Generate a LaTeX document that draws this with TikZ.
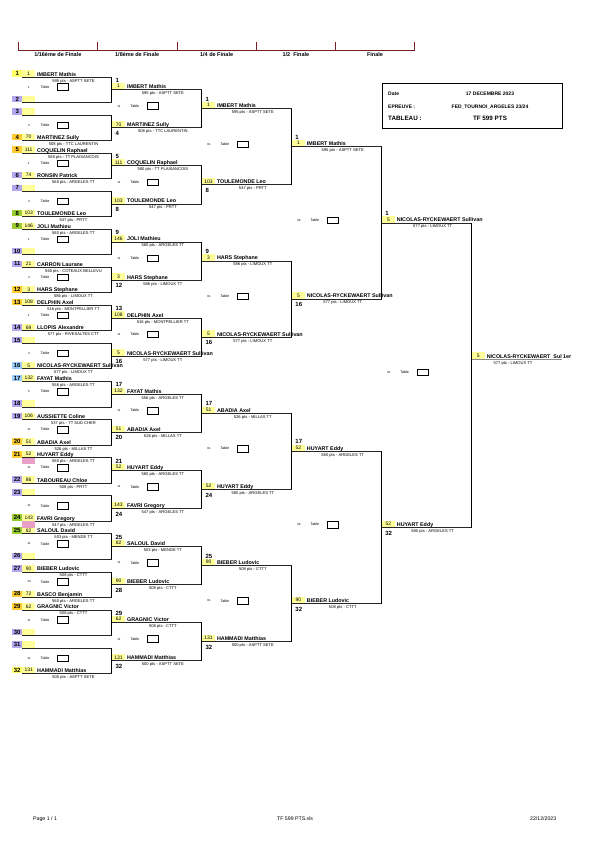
\documentclass[tikz,border=0pt]{standalone}
\usepackage{fontspec}
\setmainfont{Liberation Sans}
\definecolor{cyel}{HTML}{FFFF66}
\definecolor{cvio}{HTML}{B4A7F0}
\definecolor{cgold}{HTML}{FFCC33}
\definecolor{cgreen}{HTML}{99CC33}
\definecolor{cblue}{HTML}{99CCFF}
\definecolor{seedy}{HTML}{FFFF99}
\definecolor{cpink}{HTML}{E9A0C8}
\definecolor{hdr}{HTML}{7A1F1F}
\tikzset{
  badge/.style={anchor=south west, minimum width=10pt, minimum height=6.5pt, inner sep=0pt, font=\fontsize{6}{6}\selectfont\bfseries},
  seedbox/.style={anchor=south west, minimum width=13pt, minimum height=6.5pt, inner sep=0pt, fill=seedy, font=\fontsize{5}{5}\selectfont},
  pname/.style={anchor=base west, inner sep=0pt, font=\fontsize{5.35}{6}\selectfont\bfseries},
  pts/.style={anchor=base, inner sep=0pt, font=\fontsize{4.1}{4.1}\selectfont},
  rnum/.style={anchor=base west, inner sep=0pt, font=\fontsize{6}{6}\selectfont\bfseries},
  mnum/.style={inner sep=0pt, font=\fontsize{3}{3}\selectfont},
  tlab/.style={inner sep=0pt, font=\fontsize{3.6}{3.6}\selectfont},
  tbox/.style={draw, line width=0.6pt, anchor=west, minimum width=11pt, minimum height=6.5pt, inner sep=0pt},
  hline/.style={line width=0.8pt, black!85},
  vline/.style={line width=0.9pt, black},
  hdrline/.style={line width=0.8pt, hdr},
  hdrlab/.style={inner sep=0pt, font=\fontsize{5.5}{5.5}\selectfont\bfseries},
  info/.style={anchor=base west, inner sep=0pt, font=\fontsize{5}{5}\selectfont\bfseries},
  infoc/.style={anchor=base, inner sep=0pt, font=\fontsize{5}{5}\selectfont\bfseries},
  foot/.style={anchor=base west, inner sep=0pt, font=\fontsize{5.2}{5.2}\selectfont},
}
% left column row: #1 row, #2 badge colour, #3 seed, #4 name, #5 pts
\newcommand\LRow[5]{%
  \pgfmathsetmacro\yy{77+floor((#1-1)/2)*38.07+mod(#1-1,2)*25.4}%
  \node[badge,fill=#2] (L#1b) at (12,\yy) {#1};
  \node[seedbox] (L#1s) at (22,\yy) {#3};
  \coordinate (L#1a) at (22,\yy);
  \coordinate (L#1e) at (111.9,\yy);
  \draw[hline] (L#1a) -- (L#1e);
  \node[pname] (L#1n) at ({37},{\yy-1}) {#4};
  \node[pts] (L#1p) at ({73.5},{\yy+5}) {#5};
}
% column entry: #1 id, #2 x0, #3 y, #4 seed, #5 name, #6 pts, #7 label, #8 label offset
\newcommand\CEntry[8]{%
  \node[seedbox] (#1s) at (#2,#3) {#4};
  \coordinate (#1a) at (#2,#3);
  \coordinate (#1e) at ({#2+89.93},#3);
  \draw[hline] (#1a) -- (#1e);
  \node[pname] (#1n) at ({#2+15},{#3-1}) {#5};
  \node[pts] (#1p) at ({#2+51},{#3+5}) {#6};
  \node[rnum] (#1r) at ({#2+3.5},{#3+(#8)}) {#7};
}
% match label: #1 id, #2 x0, #3 y mid, #4 number
\newcommand\MLab[4]{%
  \node[mnum] (#1m) at ({#2+7},{#3-2.7}) {#4};
  \node[tlab] (#1t) at ({#2+23},{#3-2.7}) {Table};
  \node[tbox] (#1x) at ({#2+35},{#3-2.7}) {};
}
\begin{document}
\begin{tikzpicture}[x=1pt,y=-1pt]
\useasboundingbox (0,0) rectangle (595,841);
\fill[white] (0,0) rectangle (595,841);
% header
\foreach \x [count=\i] in {18,97.5,177,256.3,335.5,414.5} {
  \coordinate (h\i) at (\x,50);
  \coordinate (t\i) at (\x,42);
  \draw[hdrline] (h\i) -- (t\i);
}
\draw[hdrline] (h1) -- (h6);
\node[hdrlab] (hl1) at (57.8,54.5) {1/16ème de Finale};
\node[hdrlab] (hl2) at (137.2,54.5) {1/8ème de Finale};
\node[hdrlab] (hl3) at (216.6,54.5) {1/4 de Finale};
\node[hdrlab] (hl4) at (295.9,54.5) {1/2\ \ Finale};
\node[hdrlab] (hl5) at (375,54.5) {Finale};
% info box
\node[draw, line width=0.8pt, anchor=north west, minimum width=180pt, minimum height=45pt, inner sep=0pt] (infobox) at (381.7,83.3) {};
\node[info] (d1) at (388,95) {Date};
\node[infoc] (d2) at (490,95) {17 DECEMBRE 2023};
\node[info] (e1) at (388,108.3) {EPREUVE :};
\node[infoc] (e2) at (490,108.3) {FED\_TOURNOI\_ARGELES 23/24};
\node[info, font=\fontsize{6.3}{6.3}\selectfont\bfseries] (f1) at (388,120.5) {TABLEAU :};
\node[infoc, font=\fontsize{6.3}{6.3}\selectfont\bfseries] (f2) at (490,120.5) {TF 599 PTS};
% left column
\LRow{1}{cyel}{1}{IMBERT Mathis}{595 pts - ASPTT SETE}
\LRow{2}{cvio}{}{}{}
\LRow{3}{cvio}{}{}{}
\LRow{4}{cgold}{70}{MARTINEZ Sully}{508 pts - TTC LAURENTIN}
\LRow{5}{cgold}{111}{COQUELIN Raphael}{580 pts - TT PLAISANCOIS}
\LRow{6}{cvio}{74}{RONSIN Patrick}{560 pts - ARGELES TT}
\LRow{7}{cvio}{}{}{}
\LRow{8}{cgreen}{103}{TOULEMONDE Leo}{547 pts - PRTT}
\LRow{9}{cgreen}{146}{JOLI Mathieu}{560 pts - ARGELES TT}
\LRow{10}{cvio}{}{}{}
\LRow{11}{cvio}{21}{CARRON Laurane}{560 pts - COTEAUX BELLEVU}
\LRow{12}{cgold}{3}{HARS Stephane}{586 pts - LIMOUX TT}
\LRow{13}{cgold}{108}{DELPHIN Axel}{516 pts - MONTPELLIER TT}
\LRow{14}{cvio}{69}{LLOPIS Alexandre}{577 pts - RIVESALTES CTT}
\LRow{15}{cvio}{}{}{}
\LRow{16}{cblue}{5}{NICOLAS-RYCKEWAERT Sullivan}{577 pts - LIMOUX TT}
\LRow{17}{cblue}{132}{FAYAT Mathis}{556 pts - ARGELES TT}
\LRow{18}{cvio}{}{}{}
\LRow{19}{cvio}{106}{AUSSIETTE Coline}{537 pts - TT SUD CHER}
\LRow{20}{cgold}{51}{ABADIA Axel}{526 pts - MILLAS TT}
\LRow{21}{cgold}{52}{HUYART Eddy}{580 pts - ARGELES TT}
\LRow{22}{cvio}{86}{TABOUREAU Chloe}{508 pts - PRTT}
\LRow{23}{cvio}{}{}{}
\LRow{24}{cgreen}{143}{FAVRI Gregory}{547 pts - ARGELES TT}
\LRow{25}{cgreen}{82}{SALOUL David}{503 pts - MENDE TT}
\LRow{26}{cvio}{}{}{}
\LRow{27}{cvio}{90}{BIEBER Ludovic}{508 pts - CTTT}
\LRow{28}{cgold}{72}{BASCO Benjamin}{560 pts - ARGELES TT}
\LRow{29}{cgold}{62}{GRAGNIC Victor}{508 pts - CTTT}
\LRow{30}{cvio}{}{}{}
\LRow{31}{cvio}{}{}{}
\LRow{32}{cyel}{131}{HAMMADI Matthias}{500 pts - ASPTT SETE}
\node[seedbox, fill=cpink, anchor=north west] (pk21) at (L21a) {};
\node[seedbox, fill=cpink, anchor=north west] (pk24) at (L24a) {};
% left pairs: verticals and table labels
\foreach \k/\num in {1/1,2/3,3/1,4/4,5/1,6/4,7/1,8/4,9/5,10/11,11/11,12/11,13/11,14/14,15/11,16/11} {
  \pgfmathtruncatemacro\ra{2*\k-1}
  \pgfmathtruncatemacro\rb{2*\k}
  \draw[vline] (L\ra e) -- (L\rb e);
  \pgfmathsetmacro\ym{77+(\k-1)*38.07+12.7}
  \MLab{P\k}{22}{\ym}{\num}
}
% 1/8 column
\def\xb{111.9}
\newcommand\EB[5]{\pgfmathsetmacro\yb{89.7+(#1-1)*38.07}\CEntry{B#1}{\xb}{\yb}{#2}{#3}{#4}{#5}{\ifodd#1 -7.3\else 7.6\fi}}
\EB{1}{1}{IMBERT Mathis}{595 pts - ASPTT SETE}{1}
\EB{2}{70}{MARTINEZ Sully}{508 pts - TTC LAURENTIN}{4}
\EB{3}{111}{COQUELIN Raphael}{580 pts - TT PLAISANCOIS}{5}
\EB{4}{103}{TOULEMONDE Leo}{547 pts - PRTT}{8}
\EB{5}{146}{JOLI Mathieu}{560 pts - ARGELES TT}{9}
\EB{6}{3}{HARS Stephane}{586 pts - LIMOUX TT}{12}
\EB{7}{108}{DELPHIN Axel}{516 pts - MONTPELLIER TT}{13}
\EB{8}{5}{NICOLAS-RYCKEWAERT Sullivan}{577 pts - LIMOUX TT}{16}
\EB{9}{132}{FAYAT Mathis}{556 pts - ARGELES TT}{17}
\EB{10}{51}{ABADIA Axel}{526 pts - MILLAS TT}{20}
\EB{11}{52}{HUYART Eddy}{580 pts - ARGELES TT}{21}
\EB{12}{143}{FAVRI Gregory}{547 pts - ARGELES TT}{24}
\EB{13}{82}{SALOUL David}{503 pts - MENDE TT}{25}
\EB{14}{90}{BIEBER Ludovic}{508 pts - CTTT}{28}
\EB{15}{62}{GRAGNIC Victor}{508 pts - CTTT}{29}
\EB{16}{131}{HAMMADI Matthias}{500 pts - ASPTT SETE}{32}
\foreach \k/\num in {1/11,2/11,3/11,4/11,5/11,6/11,7/11,8/11} {
  \pgfmathtruncatemacro\ra{2*\k-1}
  \pgfmathtruncatemacro\rb{2*\k}
  \draw[vline] (B\ra e) -- (B\rb e);
  \pgfmathsetmacro\ym{89.7+(\k-1)*76.14+19.03}
  \MLab{Q\k}{\xb}{\ym}{\num}
}
% 1/4 column
\def\xc{201.83}
\newcommand\EC[5]{\pgfmathsetmacro\yc{108.7+(#1-1)*76.14}\CEntry{C#1}{\xc}{\yc}{#2}{#3}{#4}{#5}{\ifodd#1 -7.3\else 7.6\fi}}
\EC{1}{1}{IMBERT Mathis}{595 pts - ASPTT SETE}{1}
\EC{2}{103}{TOULEMONDE Leo}{547 pts - PRTT}{8}
\EC{3}{3}{HARS Stephane}{586 pts - LIMOUX TT}{9}
\EC{4}{5}{NICOLAS-RYCKEWAERT Sullivan}{577 pts - LIMOUX TT}{16}
\EC{5}{51}{ABADIA Axel}{526 pts - MILLAS TT}{17}
\EC{6}{52}{HUYART Eddy}{580 pts - ARGELES TT}{24}
\EC{7}{90}{BIEBER Ludovic}{508 pts - CTTT}{25}
\EC{8}{131}{HAMMADI Matthias}{500 pts - ASPTT SETE}{32}
\foreach \k/\num in {1/31,2/31,3/31,4/31} {
  \pgfmathtruncatemacro\ra{2*\k-1}
  \pgfmathtruncatemacro\rb{2*\k}
  \draw[vline] (C\ra e) -- (C\rb e);
  \pgfmathsetmacro\ym{108.7+(\k-1)*152.28+38.07}
  \MLab{R\k}{\xc}{\ym}{\num}
}
% 1/2 column
\def\xd{291.76}
\newcommand\ED[5]{\pgfmathsetmacro\yd{146.7+(#1-1)*152.28}\CEntry{D#1}{\xd}{\yd}{#2}{#3}{#4}{#5}{\ifodd#1 -7.3\else 7.6\fi}}
\ED{1}{1}{IMBERT Mathis}{595 pts - ASPTT SETE}{1}
\ED{2}{5}{NICOLAS-RYCKEWAERT Sullivan}{577 pts - LIMOUX TT}{16}
\ED{3}{52}{HUYART Eddy}{580 pts - ARGELES TT}{17}
\ED{4}{90}{BIEBER Ludovic}{508 pts - CTTT}{32}
\foreach \k/\num in {1/39,2/39} {
  \pgfmathtruncatemacro\ra{2*\k-1}
  \pgfmathtruncatemacro\rb{2*\k}
  \draw[vline] (D\ra e) -- (D\rb e);
  \pgfmathsetmacro\ym{146.7+(\k-1)*304.56+76.14}
  \MLab{S\k}{\xd}{\ym}{\num}
}
% final column
\def\xe{381.69}
\CEntry{E1}{\xe}{222.9}{5}{NICOLAS-RYCKEWAERT Sullivan}{577 pts - LIMOUX TT}{1}{-7.3}
\CEntry{E2}{\xe}{527.5}{52}{HUYART Eddy}{580 pts - ARGELES TT}{32}{7.6}
\draw[vline] (E1e) -- (E2e);
\MLab{T1}{\xe}{375.2}{41}
% winner
\node[seedbox] (Ws) at (471.6,359) {5};
\coordinate (Wa) at (471.6,359);
\coordinate (We) at (561.7,359);
\draw[line width=0.6pt, black!45] (Wa) -- (We);
\node[pname] (Wn) at (486.6,358) {NICOLAS-RYCKEWAERT\ \ Sul};
\node[pname] (W1) at (563,358) {1er};
\node[pts] (Wp) at (513,364) {577 pts - LIMOUX TT};
% footer
\node[foot] (ft1) at (33,820) {Page 1 / 1};
\node[foot] (ft2) at (277,820) {TF 599 PTS.xls};
\node[foot] (ft3) at (530,820) {22/12/2023};
\end{tikzpicture}
\end{document}
